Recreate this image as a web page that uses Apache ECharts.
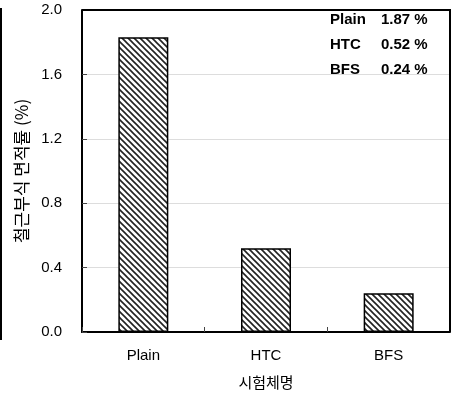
<!DOCTYPE html>
<html><head><meta charset="utf-8">
<script src="https://cdn.jsdelivr.net/npm/echarts@6/dist/echarts.min.js"></script>
<style>html,body{margin:0;padding:0;background:#fff}#c{width:458px;height:398px}</style>
</head><body><div id="c"></div>
<script>
const categories = ['Plain', 'HTC', 'BFS'];
const values = [1.83, 0.52, 0.24];
const yTicks = [0.0, 0.4, 0.8, 1.2, 1.6, 2.0];
const noteNames = ['Plain', 'HTC', 'BFS'];
const noteValues = ['1.87 %', '0.52 %', '0.24 %'];

function hatch() {
  const s = 6;
  const c = document.createElement('canvas');
  c.width = s; c.height = s;
  const g = c.getContext('2d');
  g.fillStyle = '#fff'; g.fillRect(0, 0, s, s);
  g.strokeStyle = '#222'; g.lineWidth = 1.6;
  g.beginPath();
  g.moveTo(-1, -1); g.lineTo(s + 1, s + 1);
  g.moveTo(-1, s - 1); g.lineTo(1, s + 1);
  g.moveTo(s - 1, -1); g.lineTo(s + 1, 1);
  g.stroke();
  return c;
}

const chart = echarts.init(document.getElementById('c'), null, {renderer: 'canvas'});
const font = 'Liberation Sans, Arial, sans-serif';
const graphics = [
  {type: 'line', shape: {x1: 1, y1: 8, x2: 1, y2: 340}, style: {stroke: '#000', lineWidth: 2}}
];
noteNames.forEach((n, i) => {
  graphics.push({type: 'text', left: 330, top: 12 + i * 25,
    style: {text: n, font: 'bold 15px ' + font, fill: '#000'}});
  graphics.push({type: 'text', left: 381, top: 12 + i * 25,
    style: {text: noteValues[i], font: 'bold 15px ' + font, fill: '#000'}});
});

chart.setOption({
  animation: false,
  backgroundColor: '#fff',
  grid: {left: 82, top: 10, right: 8, bottom: 66},
  xAxis: {
    type: 'category', data: categories,
    axisLine: {show: true, onZero: false, lineStyle: {color: '#000', width: 2}},
    axisTick: {show: true, inside: true, length: 5, lineStyle: {color: '#444'}},
    axisLabel: {color: '#000', fontSize: 15, fontFamily: font, margin: 16},
    name: '시험체명', nameLocation: 'middle', nameGap: 43,
    nameTextStyle: {color: '#000', fontSize: 15, fontFamily: 'Noto Sans CJK KR'}
  },
  yAxis: {
    type: 'value', min: 0, max: 2.0, interval: 0.4,
    axisLine: {show: true, lineStyle: {color: '#000', width: 2}},
    axisTick: {show: true, inside: true, length: 5, lineStyle: {color: '#444'}},
    splitLine: {show: true, lineStyle: {color: '#ddd', width: 1}},
    axisLabel: {color: '#000', fontSize: 15, fontFamily: font, margin: 20,
      formatter: v => v.toFixed(1)},
    name: '철근부식 면적률 (%)', nameLocation: 'middle', nameGap: 52, nameRotate: 90,
    nameTextStyle: {color: '#000', fontSize: 17, fontFamily: 'Noto Sans CJK KR'}
  },
  series: [{
    type: 'bar', data: values, barWidth: 50,
    itemStyle: {color: {image: hatch(), repeat: 'repeat'}, borderColor: '#000', borderWidth: 1.5}
  }],
  graphic: graphics
});

// frame from the library's own scales
const yTop = chart.convertToPixel({yAxisIndex: 0}, yTicks[yTicks.length - 1]);
const yBot = chart.convertToPixel({yAxisIndex: 0}, yTicks[0]);
const c0 = chart.convertToPixel({xAxisIndex: 0}, categories[0]);
const c1 = chart.convertToPixel({xAxisIndex: 0}, categories[1]);
const cN = chart.convertToPixel({xAxisIndex: 0}, categories[categories.length - 1]);
const bw = c1 - c0;
const xL = c0 - bw / 2, xR = cN + bw / 2;
graphics.push({type: 'polyline', z: 10,
  shape: {points: [[xL, yTop], [xR, yTop], [xR, yBot]]},
  style: {stroke: '#000', lineWidth: 2, fill: null}});
chart.setOption({graphic: graphics});
</script></body></html>
